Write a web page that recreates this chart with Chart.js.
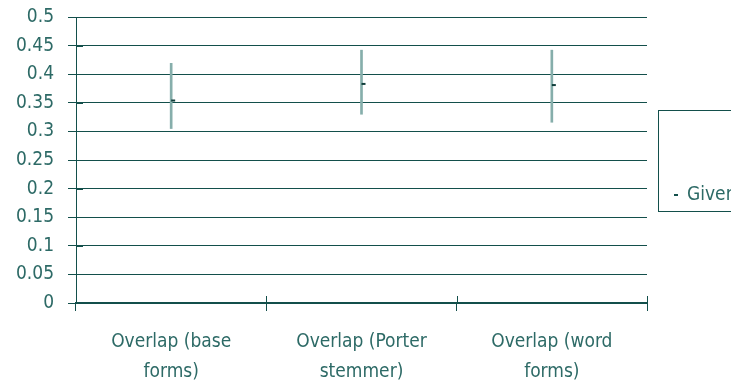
<!DOCTYPE html>
<html>
<head>
<meta charset="utf-8">
<script src="https://cdn.jsdelivr.net/npm/chart.js@4"></script>
<style>
  html, body { margin: 0; padding: 0; background: #ffffff; overflow: hidden; }
  #wrap { width: 731px; height: 384px; }
</style>
</head>
<body>
<div id="wrap"><canvas id="c" width="731" height="384"></canvas></div>
<script>
// Categories and the measured overlap (mean with its range)
const categories = [
  ['Overlap (base', 'forms)'],
  ['Overlap (Porter', 'stemmer)'],
  ['Overlap (word', 'forms)']
];
const meanValues = [0.354, 0.383, 0.381];
const lowValues = [0.305, 0.330, 0.316];
const highValues = [0.419, 0.442, 0.442];
const seriesName = 'Given';

const INK = '#134f4b';
const TEXT = '#2d6a66';
const RANGE = '#86aeab';
const FONT = "'DejaVu Sans Condensed', 'DejaVu Sans', sans-serif";

// Short tick stubs that cross into the plot area
const innerTicks = {
  id: 'innerTicks',
  afterDatasetsDraw(chart) {
    const { ctx, scales: { x, y } } = chart;
    ctx.save();
    ctx.strokeStyle = INK;
    ctx.lineWidth = 1;
    ctx.beginPath();
    y.ticks.forEach((t, i) => {
      const py = Math.round(y.getPixelForTick(i)) + 0.5;
      ctx.moveTo(x.left, py);
      ctx.lineTo(x.left + 7, py);
    });
    const n = x.ticks.length;
    for (let i = 0; i <= n; i++) {
      const px = Math.round(x.left + i * (x.right - x.left) / n) + 0.5;
      ctx.moveTo(px, y.bottom - 7);
      ctx.lineTo(px, y.bottom);
    }
    ctx.stroke();
    ctx.restore();
  }
};

// Boxed legend at the right edge
const boxLegend = {
  id: 'boxLegend',
  afterDraw(chart) {
    const { ctx, chartArea } = chart;
    const ds = chart.data.datasets[1];
    const bx = chartArea.right + 11;
    ctx.save();
    ctx.strokeStyle = INK;
    ctx.lineWidth = 1;
    ctx.strokeRect(bx + 0.5, 110.5, 120, 101);
    ctx.lineWidth = 2;
    ctx.beginPath();
    ctx.moveTo(bx + 16, 195);
    ctx.lineTo(bx + 20, 195);
    ctx.stroke();
    ctx.fillStyle = TEXT;
    ctx.font = '19px ' + FONT;
    ctx.textBaseline = 'middle';
    ctx.fillText(ds.label, bx + 29, 195);
    ctx.restore();
  }
};

new Chart(document.getElementById('c'), {
  data: {
    labels: categories,
    datasets: [
      {
        type: 'bar',
        label: 'range',
        data: lowValues.map((lo, i) => [lo, highValues[i]]),
        backgroundColor: RANGE,
        barThickness: 2,
        order: 2
      },
      {
        type: 'line',
        label: seriesName,
        data: meanValues,
        showLine: false,
        pointStyle: 'dash',
        pointRadius: 4,
        pointBorderWidth: 2,
        pointBorderColor: '#0f3d3a',
        pointBackgroundColor: '#0f3d3a',
        order: 1
      }
    ]
  },
  options: {
    responsive: false,
    animation: false,
    events: [],
    layout: { padding: { top: 17, right: 84, bottom: 0, left: 0 } },
    plugins: {
      legend: { display: false },
      tooltip: { enabled: false },
      title: { display: false }
    },
    scales: {
      x: {
        offset: true,
        grid: {
          offset: true,
          color: (c) => (c.index === categories.length ? INK : 'rgba(0,0,0,0)'),
          tickColor: INK,
          tickLength: 8,
          lineWidth: 1
        },
        border: { color: INK, width: 2 },
        ticks: {
          color: TEXT,
          font: { family: FONT, size: 19, lineHeight: 1.58 },
          padding: 16,
          maxRotation: 0,
          autoSkip: false
        },
        afterFit(s) { s.height = 81; s.paddingLeft = 0; s.paddingRight = 0; }
      },
      y: {
        min: 0,
        max: 0.5,
        grid: { color: INK, tickColor: INK, tickLength: 8, lineWidth: 1 },
        border: { color: INK, width: 1 },
        ticks: {
          stepSize: 0.05,
          color: TEXT,
          padding: 14,
          font: { family: FONT, size: 19 },
          callback: (v) => String(Math.round(v * 100) / 100)
        },
        afterFit(s) { s.width = 76; s.paddingTop = 0; s.paddingBottom = 0; }
      }
    }
  },
  plugins: [innerTicks, boxLegend]
});
</script>
</body>
</html>
